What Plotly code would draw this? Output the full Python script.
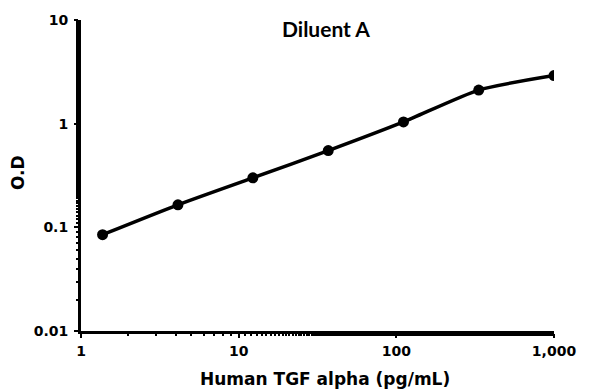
import plotly.graph_objects as go

concentration = [1.37, 4.12, 12.3, 37.0, 111.0, 333.0, 1000.0]
od_values = [0.085, 0.165, 0.30, 0.55, 1.04, 2.11, 2.91]

x_tickvals = [1, 10, 100, 1000]
x_ticktext = ["1", "10", "100", "1,000"]
y_tickvals = [0.01, 0.1, 1, 10]
y_ticktext = ["0.01", "0.1", "1", "10"]

fig = go.Figure()
fig.add_trace(go.Scatter(
    x=concentration, y=od_values, mode="lines+markers",
    line=dict(color="black", width=3.5, shape="spline", smoothing=0.6),
    marker=dict(color="black", size=11),
    showlegend=False,
))

tickfont = dict(family="DejaVu Sans", size=14, color="black", weight="bold")
minor = dict(ticks="outside", ticklen=2, tickwidth=1.5, tickcolor="black", showgrid=False)
fig.update_xaxes(
    type="log", range=[0, 3], tickvals=x_tickvals, ticktext=x_ticktext,
    showline=True, linecolor="black", linewidth=3, ticks="outside", ticklen=4,
    tickwidth=2, tickcolor="black", showgrid=False, zeroline=False,
    tickfont=tickfont, ticklabelstandoff=1, minor=minor,
)
fig.update_yaxes(
    type="log", range=[-2, 1], tickvals=y_tickvals, ticktext=y_ticktext,
    showline=True, linecolor="black", linewidth=3, ticks="outside", ticklen=4,
    tickwidth=2, tickcolor="black", showgrid=False, zeroline=False,
    tickfont=tickfont, ticklabelstandoff=3, minor=minor,
)

L, R, T, B = 81, 42, 16, 61
pw, ph = 596 - L - R, 392 - T - B

def px_x(px):
    return (px - L) / pw

def px_y(py):
    return (392 - B - py) / ph

fig.update_layout(
    width=596, height=392,
    margin=dict(l=L, r=R, t=T, b=B),
    plot_bgcolor="white", paper_bgcolor="white",
    annotations=[
        dict(text="<b>Diluent A</b>", x=px_x(326), y=px_y(25), xref="paper", yref="paper",
             xanchor="center", yanchor="middle", showarrow=False,
             font=dict(family="Lato, Liberation Sans", size=21, color="black")),
        dict(text="<b>Human TGF alpha (pg/mL)</b>", x=px_x(325), y=px_y(380), xref="paper", yref="paper",
             xanchor="center", yanchor="middle", showarrow=False,
             font=dict(family="DejaVu Sans", size=17, color="black")),
        dict(text="<b>O.D</b>", x=px_x(18), y=px_y(170), xref="paper", yref="paper",
             xanchor="center", yanchor="middle", showarrow=False, textangle=-90,
             font=dict(family="DejaVu Sans", size=17, color="black")),
    ],
)
fig.write_html("out.html", config={"displayModeBar": False},
               post_script="document.body.style.margin='0';")
